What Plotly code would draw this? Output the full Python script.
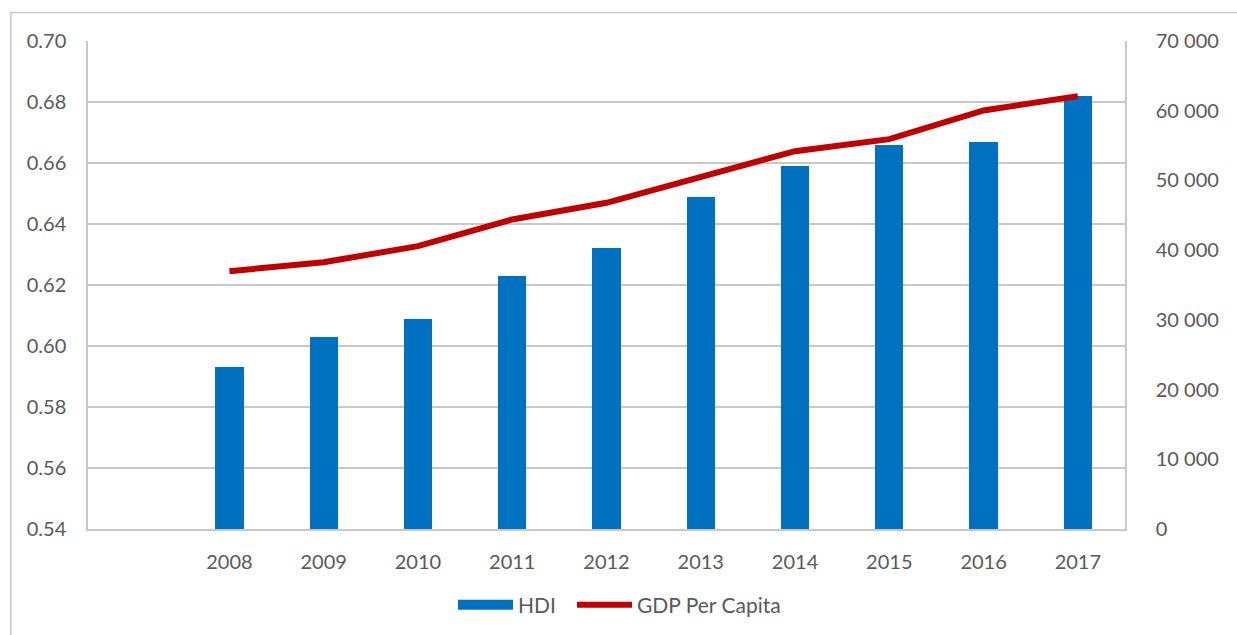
import plotly.graph_objects as go

# Data
years = [2008, 2009, 2010, 2011, 2012, 2013, 2014, 2015, 2016, 2017]
hdi = [0.593, 0.603, 0.609, 0.623, 0.632, 0.649, 0.659, 0.666, 0.667, 0.682]
gdp_per_capita = [36980, 38270, 40570, 44400, 46790, 50510, 54200, 55920, 60040, 62090]

hdi_ticks = [0.54, 0.56, 0.58, 0.60, 0.62, 0.64, 0.66, 0.68, 0.70]
gdp_ticks = [0, 10000, 20000, 30000, 40000, 50000, 60000, 70000]

FONT = "Lato"
TEXT = "#595959"
GRID = "#C8C8C8"
BLUE = "#0070C0"
RED = "#C00000"

fig = go.Figure()

fig.add_trace(go.Bar(
    x=years, y=hdi, name="HDI",
    marker=dict(color=BLUE, line=dict(width=0)),
    width=0.3, showlegend=False,
))

# Legend key for the bars: a wide flat block instead of the default square
fig.add_trace(go.Scatter(
    x=[None], y=[None], name="HDI", mode="lines",
    line=dict(color=BLUE, width=12),
    hoverinfo="skip", legend="legend",
))

fig.add_trace(go.Scatter(
    x=years, y=gdp_per_capita, name="GDP Per Capita",
    mode="lines", yaxis="y2",
    line=dict(color=RED, width=6),
    legend="legend2",
))

legend_style = dict(
    orientation="h", xanchor="left",
    yref="container", y=1 - 605 / 635, yanchor="middle",
    font=dict(size=21, color=TEXT),
    itemwidth=55,
    bgcolor="rgba(0,0,0,0)",
)

fig.update_layout(
    width=1237, height=635,
    margin=dict(l=88, r=112, t=41, b=106, autoexpand=False),
    paper_bgcolor="white", plot_bgcolor="white",
    font=dict(family=FONT, size=20, color=TEXT),
    separators=". ",
    bargap=0,
    showlegend=True,
    xaxis=dict(
        range=[2006.5, 2017.5],
        tickvals=years, ticktext=[str(y) for y in years],
        showgrid=False, zeroline=False,
        showline=True, linecolor=GRID, linewidth=1.5,
        ticks="", ticklabelstandoff=14,
        tickfont=dict(size=20, color=TEXT),
    ),
    yaxis=dict(
        range=[0.54, 0.70], tickvals=hdi_ticks, tickformat=".2f",
        showgrid=True, gridcolor=GRID, gridwidth=1.5,
        zeroline=False, showline=True, linecolor=GRID, linewidth=1.5,
        ticks="", ticklabelstandoff=16,
        tickfont=dict(size=20, color=TEXT),
    ),
    yaxis2=dict(
        range=[0, 70000], tickvals=gdp_ticks, tickformat=",d",
        overlaying="y", side="right",
        showgrid=False, zeroline=False,
        showline=True, linecolor=GRID, linewidth=1.5,
        ticks="", ticklabelstandoff=25,
        tickfont=dict(size=20, color=TEXT),
    ),
    legend=dict(legend_style, x=(453 - 88) / 1037),
    legend2=dict(legend_style, x=(572 - 88) / 1037),
    shapes=[dict(
        type="rect", xref="paper", yref="paper",
        x0=-0.0743, x1=1.3, y0=-0.4, y1=1.0584,
        line=dict(color="#C8C8C8", width=1.5),
        fillcolor="rgba(0,0,0,0)", layer="below",
    )],
)

fig.write_html("out.html")
